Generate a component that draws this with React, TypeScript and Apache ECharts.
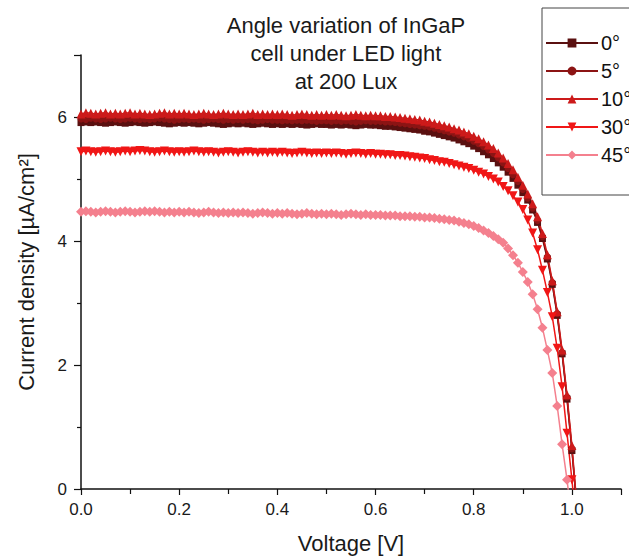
import React, { useEffect, useRef } from "react";
import * as echarts from "echarts";

const voltage = [
  0.0, 0.01, 0.02, 0.03, 0.04, 0.05, 0.06, 0.07, 0.08, 0.09,
  0.1, 0.11, 0.12, 0.13, 0.14, 0.15, 0.16, 0.17, 0.18, 0.19,
  0.2, 0.21, 0.22, 0.23, 0.24, 0.25, 0.26, 0.27, 0.28, 0.29,
  0.3, 0.31, 0.32, 0.33, 0.34, 0.35, 0.36, 0.37, 0.38, 0.39,
  0.4, 0.41, 0.42, 0.43, 0.44, 0.45, 0.46, 0.47, 0.48, 0.49,
  0.5, 0.51, 0.52, 0.53, 0.54, 0.55, 0.56, 0.57, 0.58, 0.59,
  0.6, 0.61, 0.62, 0.63, 0.64, 0.65, 0.66, 0.67, 0.68, 0.69,
  0.7, 0.71, 0.72, 0.73, 0.74, 0.75, 0.76, 0.77, 0.78, 0.79,
  0.8, 0.81, 0.82, 0.83, 0.84, 0.85, 0.86, 0.87, 0.88, 0.89,
  0.9, 0.91, 0.92, 0.93, 0.94, 0.95, 0.96, 0.97, 0.98, 0.99,
  1.0, 1.01, 1.02,
];

const angle0 = [
  5.91, 5.92, 5.91, 5.92, 5.91, 5.9, 5.91, 5.92, 5.91, 5.9,
  5.91, 5.92, 5.91, 5.9, 5.91, 5.92, 5.91, 5.9, 5.89, 5.9,
  5.91, 5.9, 5.91, 5.9, 5.89, 5.9, 5.91, 5.9, 5.89, 5.88,
  5.89, 5.9, 5.89, 5.9, 5.89, 5.88, 5.89, 5.9, 5.89, 5.88,
  5.89, 5.88, 5.89, 5.88, 5.89, 5.88, 5.87, 5.88, 5.89, 5.88,
  5.88, 5.87, 5.88, 5.87, 5.88, 5.87, 5.86, 5.87, 5.88, 5.87,
  5.87, 5.86, 5.85, 5.85, 5.84, 5.83, 5.82, 5.81, 5.8, 5.79,
  5.77, 5.76, 5.74, 5.72, 5.7, 5.68, 5.66, 5.63, 5.6, 5.57,
  5.53, 5.49, 5.44, 5.39, 5.33, 5.26, 5.19, 5.11, 5.01, 4.9,
  4.78, 4.66, 4.5, 4.3, 4.04, 3.71, 3.3, 2.8, 2.18, 1.45,
  0.62, -0.3, -1.2,
];

const angle5 = [
  5.97, 5.96, 5.98, 5.97, 5.96, 5.97, 5.98, 5.97, 5.96, 5.97,
  5.98, 5.97, 5.96, 5.97, 5.96, 5.97, 5.98, 5.97, 5.96, 5.95,
  5.96, 5.97, 5.96, 5.97, 5.96, 5.95, 5.96, 5.97, 5.96, 5.95,
  5.96, 5.95, 5.96, 5.95, 5.96, 5.95, 5.94, 5.95, 5.96, 5.95,
  5.95, 5.94, 5.95, 5.94, 5.95, 5.94, 5.95, 5.94, 5.93, 5.94,
  5.94, 5.93, 5.94, 5.93, 5.94, 5.93, 5.92, 5.93, 5.94, 5.93,
  5.93, 5.93, 5.92, 5.92, 5.91, 5.9, 5.89, 5.88, 5.87, 5.86,
  5.85, 5.84, 5.82, 5.8, 5.78, 5.76, 5.74, 5.71, 5.68, 5.65,
  5.61, 5.57, 5.52, 5.47, 5.41, 5.34, 5.26, 5.17, 5.07, 4.96,
  4.83, 4.69, 4.53, 4.33, 4.07, 3.74, 3.33, 2.83, 2.2, 1.48,
  0.65, -0.28, -1.2,
];

const angle10 = [
  6.05, 6.07, 6.06, 6.05, 6.06, 6.07, 6.05, 6.06, 6.05, 6.06,
  6.07, 6.05, 6.06, 6.05, 6.04, 6.05, 6.06, 6.07, 6.05, 6.06,
  6.05, 6.06, 6.05, 6.04, 6.05, 6.06, 6.05, 6.04, 6.05, 6.06,
  6.05, 6.04, 6.05, 6.04, 6.05, 6.06, 6.04, 6.05, 6.04, 6.05,
  6.04, 6.05, 6.04, 6.03, 6.04, 6.05, 6.04, 6.03, 6.04, 6.03,
  6.04, 6.03, 6.04, 6.03, 6.02, 6.03, 6.04, 6.03, 6.02, 6.03,
  6.02, 6.02, 6.01, 6.01, 6.0, 5.99, 5.98, 5.97, 5.96, 5.95,
  5.93, 5.92, 5.9, 5.88, 5.86, 5.84, 5.81, 5.79, 5.76, 5.73,
  5.69, 5.65, 5.6, 5.55, 5.49, 5.42, 5.34, 5.25, 5.15, 5.03,
  4.9, 4.76, 4.6, 4.39, 4.12, 3.78, 3.36, 2.86, 2.24, 1.52,
  0.7, -0.25, -1.2,
];

const angle30 = [
  5.44, 5.45, 5.44, 5.43, 5.44, 5.45, 5.44, 5.43, 5.44, 5.45,
  5.44, 5.45, 5.46, 5.45, 5.44, 5.43, 5.44, 5.45, 5.44, 5.43,
  5.44, 5.43, 5.44, 5.45, 5.44, 5.43, 5.44, 5.43, 5.42, 5.43,
  5.44, 5.43, 5.42, 5.43, 5.44, 5.43, 5.42, 5.43, 5.42, 5.43,
  5.42, 5.43, 5.42, 5.41, 5.42, 5.43, 5.42, 5.41, 5.42, 5.41,
  5.42, 5.41, 5.42, 5.41, 5.4, 5.41, 5.42, 5.41, 5.4, 5.41,
  5.4, 5.4, 5.39, 5.39, 5.38, 5.38, 5.37, 5.36, 5.35, 5.34,
  5.33, 5.31, 5.3, 5.28, 5.27, 5.25, 5.23, 5.21, 5.19, 5.17,
  5.14, 5.11, 5.08, 5.04, 5.0, 4.95, 4.88, 4.81, 4.73, 4.63,
  4.51, 4.34, 4.13, 3.86, 3.53, 3.17, 2.78, 2.27, 1.65, 0.9,
  0.15, -0.65, -1.5,
];

const angle45 = [
  4.47, 4.48, 4.47, 4.46, 4.47, 4.48, 4.47, 4.46, 4.47, 4.48,
  4.47, 4.46, 4.47, 4.48, 4.47, 4.48, 4.47, 4.46, 4.47, 4.46,
  4.47, 4.46, 4.47, 4.46, 4.45, 4.46, 4.47, 4.46, 4.45, 4.46,
  4.45, 4.46, 4.45, 4.46, 4.45, 4.44, 4.45, 4.46, 4.45, 4.44,
  4.45, 4.44, 4.45, 4.44, 4.43, 4.44, 4.45, 4.44, 4.43, 4.44,
  4.43, 4.44, 4.43, 4.42, 4.43, 4.44, 4.43, 4.42, 4.43, 4.42,
  4.42, 4.42, 4.41, 4.41, 4.41, 4.4, 4.4, 4.4, 4.39, 4.39,
  4.38, 4.38, 4.37, 4.36, 4.35, 4.34, 4.33, 4.31, 4.29, 4.27,
  4.24, 4.21, 4.17, 4.13, 4.08, 4.03, 3.97, 3.88, 3.77, 3.65,
  3.5, 3.34, 3.14, 2.9, 2.6, 2.24, 1.87, 1.34, 0.72, 0.15,
  -0.5, -1.2, -1.9,
];

const seriesNames = ["0°", "5°", "10°", "30°", "45°"];
const seriesValues = [angle0, angle5, angle10, angle30, angle45];
const seriesColors = ["#5a1010", "#8c1414", "#cc1a1a", "#f01616", "#f4808e"];
const seriesSymbols = [
  "rect",
  "circle",
  "triangle",
  "path://M0,0 L10,0 L5,9 Z",
  "diamond",
];
const seriesSymbolSizes = [7, 7, 9, 9, 10];

const titleLines = ["Angle variation of InGaP", "cell under LED light", "at 200 Lux"];
const xAxisTitle = "Voltage [V]";
const yAxisTitle = "Current density [µA/cm²]";

const FONT = "'Liberation Sans', Arial, sans-serif";

export default function App() {
  const ref = useRef<HTMLDivElement>(null);

  useEffect(() => {
    if (!ref.current) return;
    const chart = echarts.init(ref.current, null, { renderer: "svg" });

    const series = seriesNames.map((name, s) => ({
      name,
      type: "line",
      data: voltage.map((v, i) => [v, seriesValues[s][i]]),
      symbol: seriesSymbols[s],
      symbolSize: seriesSymbolSizes[s],
      showSymbol: true,
      clip: true,
      lineStyle: { color: seriesColors[s], width: 1.5 },
      itemStyle: { color: seriesColors[s], borderWidth: 0 },
      emphasis: { disabled: true },
    }));

    chart.setOption({
      animation: false,
      backgroundColor: "#ffffff",
      textStyle: { fontFamily: FONT },
      title: {
        text: titleLines.join("\n"),
        left: 341,
        top: 6,
        textAlign: "center",
        textStyle: {
          fontFamily: FONT,
          fontSize: 22,
          fontWeight: "normal",
          lineHeight: 28,
          color: "#1a1a1a",
        },
      },
      graphic: [
        {
          type: "rect",
          shape: { x: 542, y: 8, width: 120, height: 187 },
          style: { fill: "#ffffff", stroke: "#444", lineWidth: 1 },
          z: 0,
          silent: true,
        },
      ],
      legend: {
        orient: "vertical",
        left: 545,
        top: 33,
        padding: 0,
        itemWidth: 52,
        itemHeight: 11,
        itemGap: 8,
        selectedMode: false,
        z: 10,
        textStyle: {
          fontFamily: FONT,
          fontSize: 20,
          lineHeight: 20,
          color: "#111",
          padding: [0, 0, 0, -2],
        },
        data: seriesNames,
      },
      grid: {
        left: 81,
        right: 8,
        top: 55,
        bottom: 71,
        containLabel: false,
        outerBoundsMode: "none",
      },
      xAxis: {
        type: "value",
        min: 0,
        max: 1.1,
        interval: 0.2,
        name: xAxisTitle,
        nameLocation: "middle",
        nameGap: 43,
        nameTextStyle: { fontFamily: FONT, fontSize: 22, color: "#1a1a1a" },
        axisLine: { show: true, lineStyle: { color: "#111", width: 1.5 } },
        axisTick: { show: true, inside: false, length: 6, lineStyle: { color: "#111", width: 1.2 } },
        minorTick: { show: true, splitNumber: 2, length: 5, lineStyle: { color: "#111", width: 1.2 } },
        splitLine: { show: false },
        minorSplitLine: { show: false },
        axisLabel: {
          fontFamily: FONT,
          fontSize: 17,
          color: "#1a1a1a",
          margin: 12,
          showMaxLabel: false,
          formatter: (v: number) => v.toFixed(1),
        },
      },
      yAxis: {
        type: "value",
        min: 0,
        max: 7,
        interval: 2,
        name: yAxisTitle,
        nameLocation: "middle",
        nameGap: 44,
        nameTextStyle: { fontFamily: FONT, fontSize: 22, color: "#1a1a1a" },
        axisLine: { show: true, lineStyle: { color: "#111", width: 1.5 } },
        axisTick: { show: true, inside: false, length: 7, lineStyle: { color: "#111", width: 1.2 } },
        minorTick: { show: true, splitNumber: 2, length: 4, lineStyle: { color: "#111", width: 1.2 } },
        splitLine: { show: false },
        minorSplitLine: { show: false },
        axisLabel: {
          fontFamily: FONT,
          fontSize: 17,
          color: "#1a1a1a",
          margin: 14,
          showMaxLabel: false,
        },
      },
      series,
    });

    return () => chart.dispose();
  }, []);

  return (
    <div
      ref={ref}
      style={{ position: "fixed", left: 0, top: 0, width: 629, height: 560, background: "#fff" }}
    />
  );
}
